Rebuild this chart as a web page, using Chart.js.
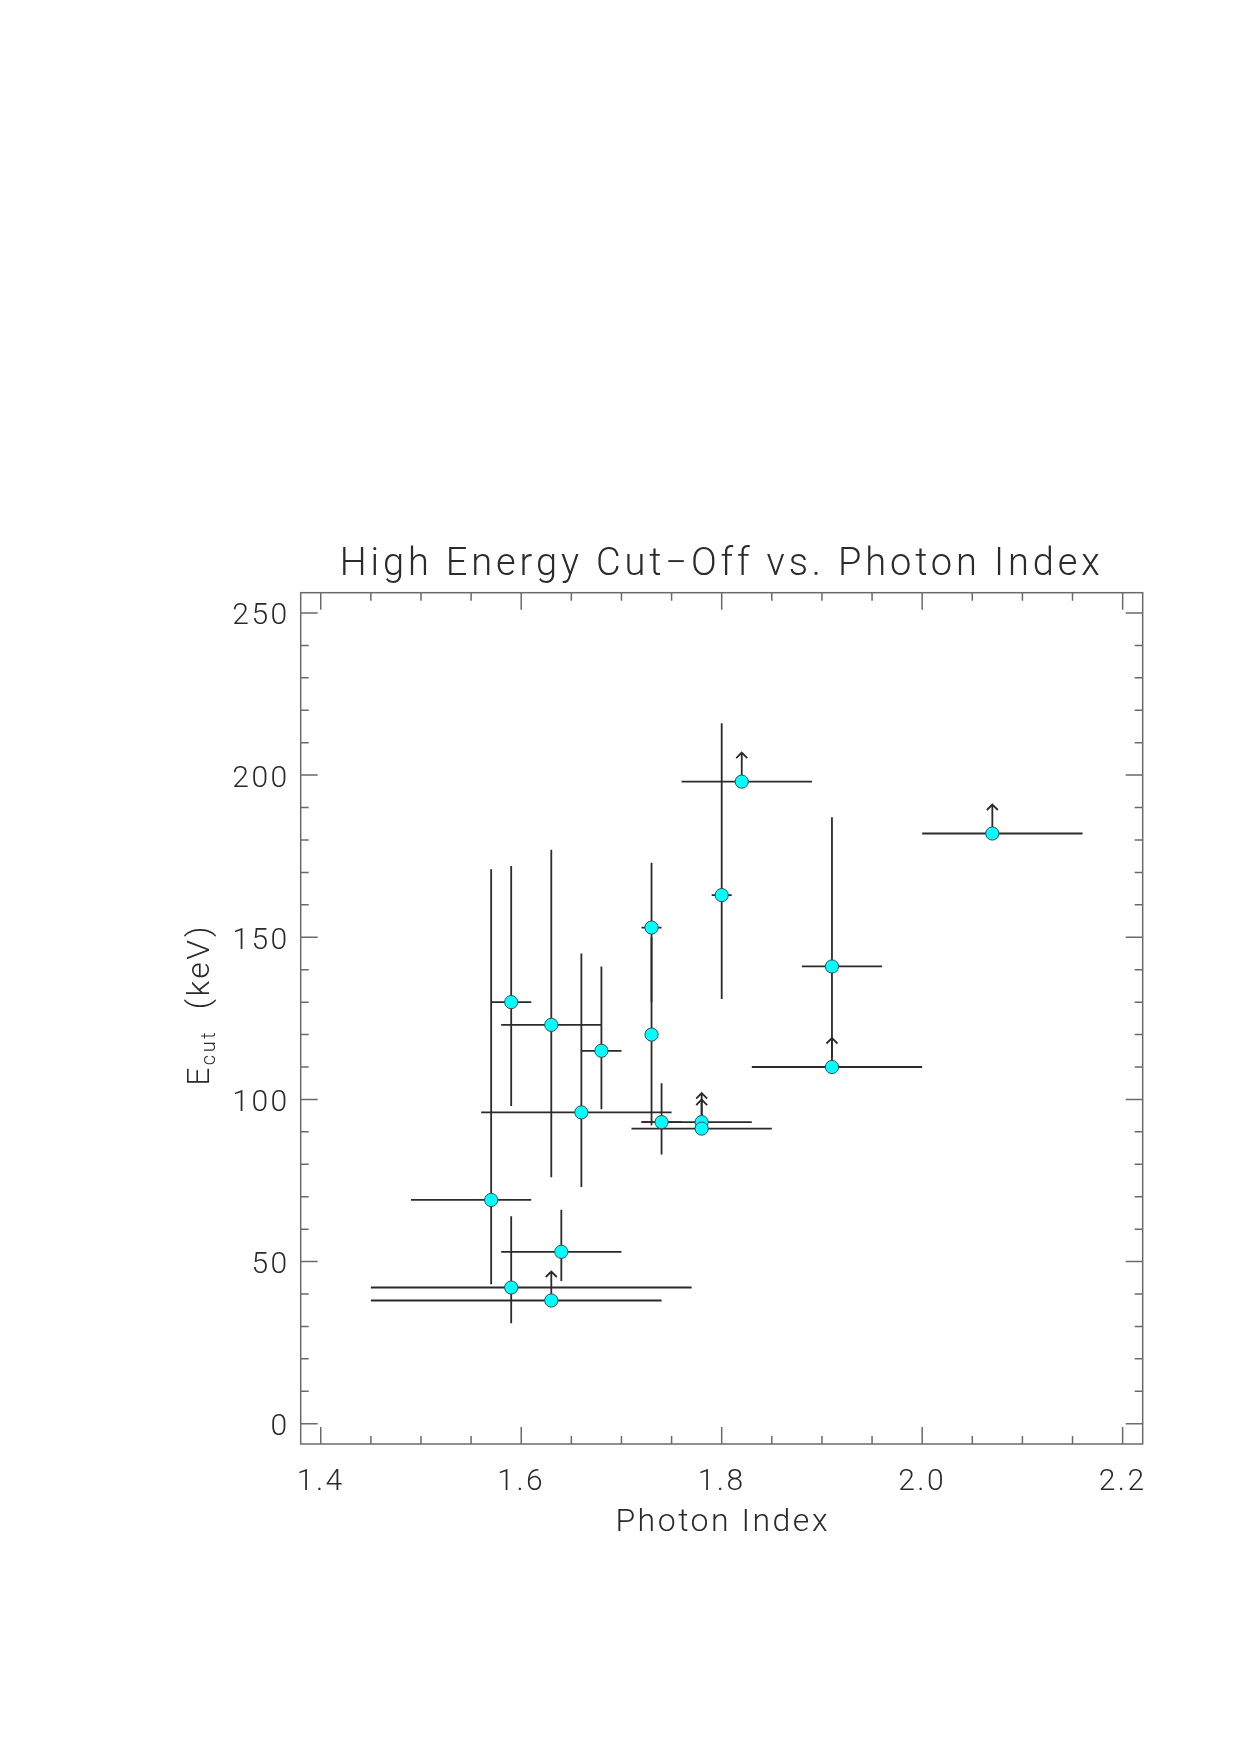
<!DOCTYPE html>
<html>
<head>
<meta charset="utf-8">
<script src="https://cdn.jsdelivr.net/npm/chart.js@4.4.1/dist/chart.umd.min.js"></script>
<style>
  html, body { margin: 0; padding: 0; background: #fff; }
  canvas { display: block; }
</style>
</head>
<body>
<canvas id="c" width="1240" height="1755"></canvas>
<script>
// High energy cut-off vs photon index
const photonIndex = [1.57, 1.59, 1.59, 1.63, 1.63, 1.64, 1.66, 1.68, 1.73, 1.73, 1.74, 1.78, 1.78, 1.80, 1.82, 1.91, 1.91, 2.07];
const eCut        = [69, 130, 42, 123, 38, 53, 96, 115, 153, 120, 93, 93, 91, 163, 198, 141, 110, 182];
const indexLow    = [1.49, 1.57, 1.45, 1.58, 1.45, 1.58, 1.56, 1.66, 1.72, null, 1.72, 1.72, 1.71, 1.79, 1.76, 1.88, 1.83, 2.00];
const indexHigh   = [1.61, 1.61, 1.77, 1.68, 1.74, 1.70, 1.75, 1.70, 1.74, null, 1.76, 1.83, 1.85, 1.81, 1.89, 1.96, 2.00, 2.16];
const eCutLow     = [43, 98, 31, 76, null, 44, 73, 97, 130, 92, 83, null, null, 131, null, 113, null, null];
const eCutHigh    = [171, 172, 64, 177, null, 66, 145, 141, 173, 150, 105, null, null, 216, null, 187, null, null];
const lowerLimit  = [false, false, false, false, true, false, false, false, false, false, false, true, true, false, true, false, true, true];

const xTicks = [1.4, 1.6, 1.8, 2.0, 2.2];
const yTicks = [0, 50, 100, 150, 200, 250];
const xMinorStep = 0.05;
const yMinorStep = 10;

const FONT = 'Roboto, "DejaVu Sans", sans-serif';
const INK = '#2b2b2b';
const AXIS = '#6a6a6a';

// error bars + lower-limit arrows, drawn under the markers
const errorBars = {
  id: 'errorBars',
  beforeDatasetsDraw(chart) {
    const { ctx, scales: { x, y } } = chart;
    ctx.save();
    ctx.strokeStyle = INK;
    ctx.lineWidth = 1.8;
    photonIndex.forEach((g, i) => {
      const px = x.getPixelForValue(g);
      const py = y.getPixelForValue(eCut[i]);
      ctx.beginPath();
      if (indexLow[i] != null) {
        ctx.moveTo(x.getPixelForValue(indexLow[i]), py);
        ctx.lineTo(x.getPixelForValue(indexHigh[i]), py);
      }
      if (eCutLow[i] != null) {
        ctx.moveTo(px, y.getPixelForValue(eCutLow[i]));
        ctx.lineTo(px, y.getPixelForValue(eCutHigh[i]));
      }
      if (lowerLimit[i]) {
        const tip = py - 29;
        ctx.moveTo(px, py);
        ctx.lineTo(px, tip);
        ctx.moveTo(px - 5.5, tip + 5.5);
        ctx.lineTo(px, tip);
        ctx.lineTo(px + 5.5, tip + 5.5);
      }
      ctx.stroke();
    });
    ctx.restore();
  }
};

// wide, airy digits like the vector font of the original
const tickSpacing = {
  id: 'tickSpacing',
  beforeDraw(chart) { chart.ctx.letterSpacing = '2.5px'; },
  beforeDatasetsDraw(chart) { chart.ctx.letterSpacing = '0px'; }
};

// IDL-style box with inward ticks on all four sides, plus titles
const idlFrame = {
  id: 'idlFrame',
  afterDraw(chart) {
    const { ctx, chartArea: a, scales: { x, y } } = chart;
    ctx.save();
    ctx.letterSpacing = '0px';
    ctx.strokeStyle = AXIS;
    ctx.lineWidth = 1.5;
    ctx.strokeRect(a.left, a.top, a.right - a.left, a.bottom - a.top);

    ctx.beginPath();
    for (let v = xTicks[0]; v <= xTicks[xTicks.length - 1] + 1e-9; v += xMinorStep) {
      const major = xTicks.some(t => Math.abs(t - v) < 1e-6);
      const len = major ? 17 : 8;
      const px = x.getPixelForValue(v);
      ctx.moveTo(px, a.bottom); ctx.lineTo(px, a.bottom - len);
      ctx.moveTo(px, a.top);    ctx.lineTo(px, a.top + len);
    }
    for (let v = yTicks[0]; v <= yTicks[yTicks.length - 1] + 1e-9; v += yMinorStep) {
      const major = yTicks.includes(Math.round(v));
      const len = major ? 17 : 8;
      const py = y.getPixelForValue(v);
      ctx.moveTo(a.left, py);  ctx.lineTo(a.left + len, py);
      ctx.moveTo(a.right, py); ctx.lineTo(a.right - len, py);
    }
    ctx.stroke();

    ctx.fillStyle = INK;
    // main title, stretched to the plot's width like the original
    const title = 'High Energy Cut\u2212Off vs. Photon Index';
    ctx.font = `300 38px ${FONT}`;
    const w0 = ctx.measureText(title).width;
    ctx.letterSpacing = ((760 - w0) / (title.length - 1)).toFixed(2) + 'px';
    ctx.textAlign = 'left';
    ctx.textBaseline = 'alphabetic';
    const w1 = ctx.measureText(title).width;
    ctx.fillText(title, (a.left + a.right) / 2 - w1 / 2, 575);

    // x title
    ctx.font = `300 32px ${FONT}`;
    ctx.letterSpacing = '2.5px';
    ctx.textAlign = 'center';
    ctx.fillText('Photon Index', (a.left + a.right) / 2 + 1, 1531);

    // y title with subscript
    ctx.save();
    ctx.translate(209, 1005);
    ctx.rotate(-Math.PI / 2);
    ctx.textAlign = 'left';
    ctx.letterSpacing = '2.5px';
    const big = `300 32px ${FONT}`, small = `300 20px ${FONT}`;
    ctx.font = big; const wE = ctx.measureText('E').width;
    ctx.font = small; const wSub = ctx.measureText('cut').width;
    ctx.font = big; const wRest = ctx.measureText('  (keV)').width;
    let cx = -(wE + wSub + wRest) / 2;
    ctx.font = big; ctx.fillText('E', cx, 0); cx += wE;
    ctx.font = small; ctx.fillText('cut', cx, 6); cx += wSub;
    ctx.font = big; ctx.fillText('  (keV)', cx, 0);
    ctx.restore();
    ctx.restore();
  }
};

new Chart(document.getElementById('c'), {
  type: 'scatter',
  data: {
    datasets: [{
      data: photonIndex.map((g, i) => ({ x: g, y: eCut[i] })),
      backgroundColor: '#00ffff',
      borderColor: '#2f4f55',
      borderWidth: 1,
      pointRadius: 6.6,
      pointHoverRadius: 6.6
    }]
  },
  options: {
    responsive: false,
    animation: false,
    devicePixelRatio: 1,
    layout: { padding: { top: 592.7, right: 97.3, left: 0, bottom: 0 } },
    plugins: { legend: { display: false }, tooltip: { enabled: false } },
    scales: {
      x: {
        type: 'linear',
        min: 1.38,
        max: 2.22,
        grid: { display: false, drawTicks: false },
        border: { display: false },
        afterBuildTicks: s => { s.ticks = xTicks.map(v => ({ value: v })); },
        afterFit: s => { s.height = 311; },
        ticks: {
          padding: 20,
          color: INK,
          font: { family: FONT, size: 30, weight: '300' },
          callback: v => Number(v).toFixed(1)
        }
      },
      y: {
        type: 'linear',
        min: -6.25,
        max: 256.25,
        grid: { display: false, drawTicks: false },
        border: { display: false },
        afterBuildTicks: s => { s.ticks = yTicks.map(v => ({ value: v })); },
        afterFit: s => { s.width = 300.7; },
        ticks: {
          padding: 11,
          labelOffset: 4,
          color: INK,
          font: { family: FONT, size: 30, weight: '300' },
          callback: v => String(v)
        }
      }
    }
  },
  plugins: [tickSpacing, errorBars, idlFrame]
});
</script>
</body>
</html>
